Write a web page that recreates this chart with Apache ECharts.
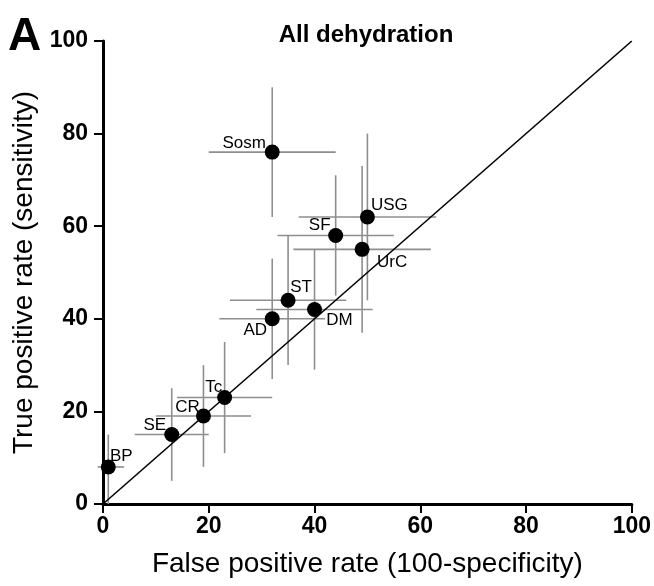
<!DOCTYPE html>
<html>
<head>
<meta charset="utf-8">
<script src="https://cdn.jsdelivr.net/npm/echarts@6/dist/echarts.min.js"></script>
<style>
  html, body { margin: 0; padding: 0; background: #fff; }
  #chart { width: 654px; height: 586px; }
</style>
</head>
<body>
<div id="chart"></div>
<script>
// test names and their rates, with 95% CI ends
var names = ['BP', 'SE', 'CR', 'Tc', 'AD', 'ST', 'DM', 'SF', 'UrC', 'USG', 'Sosm'];
var fpr     = [1, 13, 19, 23, 32, 35, 40, 44, 49, 50, 32];
var fprLow  = [-1, 6, 10, 14, 22, 24, 29, 33, 36, 37, 20];
var fprHigh = [4, 20, 28, 32, 42, 46, 51, 55, 62, 63, 44];
var tpr     = [8, 15, 19, 23, 40, 44, 42, 58, 55, 62, 76];
var tprLow  = [0, 5, 8, 11, 27, 30, 29, 45, 37, 44, 62];
var tprHigh = [15, 25, 30, 35, 53, 58, 55, 71, 73, 80, 90];
var xTicks = [0, 20, 40, 60, 80, 100];
var yTicks = [0, 20, 40, 60, 80, 100];

// where each label sits relative to its dot (pixels)
var labelShift = {
    BP: [13, -11], SE: [-17, -9], CR: [-16, -9], Tc: [-11, -10],
    AD: [-17, 12], ST: [13, -13], DM: [25, 11], SF: [-16, -10],
    UrC: [30, 13], USG: [22, -12], Sosm: [-28, -9]
};

var font = 'Liberation Sans, Arial, Helvetica, sans-serif';
var chart = echarts.init(document.getElementById('chart'));

var barData = [];
var dotData = [];
for (var i = 0; i < names.length; i++) {
    barData.push([fpr[i], tpr[i], fprLow[i], fprHigh[i], tprLow[i], tprHigh[i]]);
    dotData.push({
        name: names[i],
        value: [fpr[i], tpr[i]],
        label: { offset: labelShift[names[i]] }
    });
}

var option = {
    animation: false,
    graphic: [
        {
            type: 'text', left: 8, top: 14,
            style: { text: 'A', font: 'bold 46px ' + font, fill: '#000' }
        },
        {
            type: 'text', x: 366, y: 35,
            style: {
                text: 'All dehydration', font: 'bold 24px ' + font, fill: '#000',
                textAlign: 'center', textVerticalAlign: 'middle'
            }
        }
    ],
    grid: { left: 103, right: 22, top: 41, bottom: 82 },
    xAxis: {
        type: 'value', min: xTicks[0], max: xTicks[xTicks.length - 1], interval: 20,
        name: 'False positive rate (100-specificity)',
        nameLocation: 'middle', nameGap: 46,
        nameTextStyle: { fontFamily: font, fontSize: 28, color: '#000' },
        axisLine: { lineStyle: { color: '#000', width: 3 } },
        axisTick: { length: 9, lineStyle: { color: '#000', width: 2 } },
        axisLabel: { fontFamily: font, fontWeight: 'bold', fontSize: 23, color: '#000', margin: 11 },
        splitLine: { show: false }
    },
    yAxis: {
        type: 'value', min: yTicks[0], max: yTicks[yTicks.length - 1], interval: 20,
        name: 'True positive rate (sensitivity)',
        nameLocation: 'middle', nameGap: 62,
        nameTextStyle: { fontFamily: font, fontSize: 28, color: '#000' },
        axisLine: { lineStyle: { color: '#000', width: 3 } },
        axisTick: { length: 9, lineStyle: { color: '#000', width: 2 } },
        axisLabel: { fontFamily: font, fontWeight: 'bold', fontSize: 23, color: '#000', margin: 15 },
        splitLine: { show: false }
    },
    series: [
        {
            type: 'custom',
            clip: false,
            z: 1,
            data: barData,
            renderItem: function (params, api) {
                var c = api.coord([api.value(0), api.value(1)]);
                var l = api.coord([api.value(2), api.value(1)]);
                var r = api.coord([api.value(3), api.value(1)]);
                var b = api.coord([api.value(0), api.value(4)]);
                var t = api.coord([api.value(0), api.value(5)]);
                var st = { stroke: '#8e8e8e', lineWidth: 1.6 };
                return {
                    type: 'group',
                    children: [
                        { type: 'line', shape: { x1: l[0], y1: c[1], x2: r[0], y2: c[1] }, style: st },
                        { type: 'line', shape: { x1: c[0], y1: b[1], x2: c[0], y2: t[1] }, style: st }
                    ]
                };
            }
        },
        {
            type: 'line',
            z: 2,
            data: [[0, 0], [100, 100]],
            symbol: 'none',
            silent: true,
            lineStyle: { color: '#000', width: 1.6 }
        },
        {
            type: 'scatter',
            z: 3,
            symbolSize: 15,
            itemStyle: { color: '#000', opacity: 1 },
            data: dotData,
            label: {
                show: true,
                position: 'inside',
                formatter: '{b}',
                fontFamily: font,
                fontSize: 17,
                color: '#000',
                align: 'center',
                verticalAlign: 'middle'
            }
        }
    ]
};
chart.setOption(option);
</script>
</body>
</html>
